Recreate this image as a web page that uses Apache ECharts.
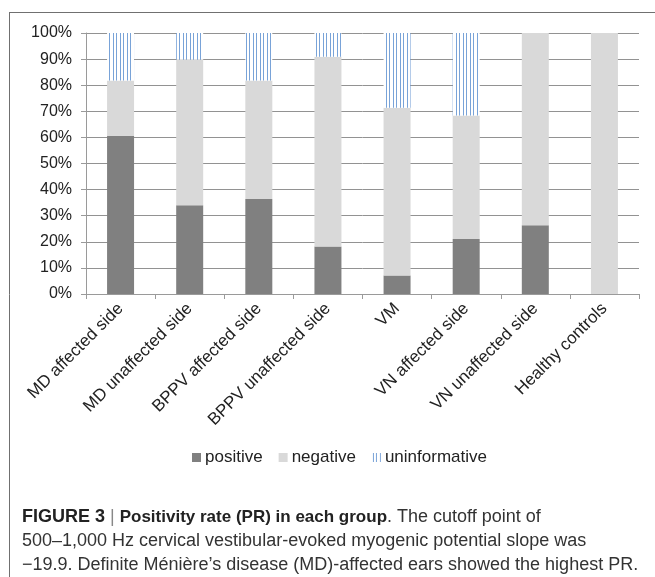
<!DOCTYPE html>
<html>
<head>
<meta charset="utf-8">
<script src="https://cdn.jsdelivr.net/npm/echarts@6/dist/echarts.min.js"></script>
<style>
  html, body { margin: 0; padding: 0; background: #fff; }
  #chart { width: 655px; height: 577px; }
</style>
</head>
<body>
<div id="chart"></div>
<script>
// groups along the x axis
const groups = [
  "MD affected side",
  "MD unaffected side",
  "BPPV affected side",
  "BPPV unaffected side",
  "VM",
  "VN affected side",
  "VN unaffected side",
  "Healthy controls"
];
// share of each group, in percent
const positive = [60.6, 34.0, 36.4, 18.2, 7.1, 21.1, 26.3, 0];
const negative = [21.2, 55.8, 45.4, 72.7, 64.3, 47.3, 73.7, 100];
const uninformative = [18.2, 10.2, 18.2, 9.1, 28.6, 31.6, 0, 0];
const yTicks = [0, 10, 20, 30, 40, 50, 60, 70, 80, 90, 100];

const fontFam = "Liberation Sans, Arial, sans-serif";

// vertical stripes for the "uninformative" part
function stripes() {
  const c = document.createElement("canvas");
  c.width = 7;
  c.height = 4;
  const ctx = c.getContext("2d");
  ctx.fillStyle = "#ffffff";
  ctx.fillRect(0, 0, 7, 4);
  ctx.fillStyle = "#79a3d8";
  ctx.fillRect(1, 0, 1, 4);
  ctx.fillRect(4, 0, 1, 4);
  return c;
}

const myChart = echarts.init(document.getElementById("chart"));

const barStyle = {
  type: "bar",
  stack: "total",
  barWidth: 27,
  animation: false
};

const options = {
  textStyle: { fontFamily: fontFam },
  legend: {
    data: ["positive", "negative", "uninformative"],
    top: 444,
    left: 187,
    icon: "rect",
    itemWidth: 9,
    itemHeight: 9,
    itemGap: 16,
    textStyle: { fontSize: 17, color: "#222", fontFamily: fontFam, padding: [0, 0, 0, -1] }
  },
  grid: {
    left: 86,
    right: 16,
    top: 33,
    bottom: 283
  },
  xAxis: {
    type: "category",
    data: groups,
    axisLine: { lineStyle: { color: "#9a9a9a" } },
    axisTick: { show: true, length: 5, lineStyle: { color: "#9a9a9a" } },
    axisLabel: {
      rotate: 45,
      interval: 0,
      fontSize: 17,
      color: "#222",
      margin: 12
    },
    splitLine: { show: false }
  },
  yAxis: {
    type: "value",
    min: yTicks[0],
    max: yTicks[yTicks.length - 1],
    interval: 10,
    axisLine: { show: true, lineStyle: { color: "#9a9a9a" } },
    axisTick: { show: true, length: 5, lineStyle: { color: "#9a9a9a" } },
    axisLabel: {
      formatter: "{value}%",
      fontSize: 16,
      color: "#222",
      margin: 14
    },
    splitLine: { lineStyle: { color: "#929292", width: 1 } }
  },
  series: [
    Object.assign({ name: "positive", data: positive, itemStyle: { color: "#808080" } }, barStyle),
    Object.assign({ name: "negative", data: negative, itemStyle: { color: "#d9d9d9" } }, barStyle),
    Object.assign({
      name: "uninformative",
      data: uninformative,
      itemStyle: { color: { image: stripes(), repeat: "repeat" } }
    }, barStyle)
  ],
  graphic: [
    // frame: top and left rules
    { type: "line", shape: { x1: 9, y1: 12.5, x2: 655, y2: 12.5 }, style: { stroke: "#707070", lineWidth: 1 } },
    { type: "line", shape: { x1: 9.5, y1: 12, x2: 9.5, y2: 577 }, style: { stroke: "#707070", lineWidth: 1 } },
    {
      type: "text",
      left: 22,
      top: 505,
      style: {
        text: "{b|FIGURE 3} {s||} {n|Positivity rate (PR) in each group}. The cutoff point of\n" +
              "500\u20131,000 Hz cervical vestibular-evoked myogenic potential slope was\n" +
              "\u221219.9. Definite M\u00e9ni\u00e8re\u2019s disease (MD)-affected ears showed the highest PR.",
        fontSize: 18,
        fontFamily: fontFam,
        fill: "#333",
        lineHeight: 24,
        rich: {
          b: { fontWeight: "bold", fontSize: 18, fontFamily: fontFam, fill: "#222", lineHeight: 24 },
          n: { fontWeight: "bold", fontSize: 17, fontFamily: fontFam, fill: "#222", lineHeight: 24 },
          s: { fontSize: 18, fontFamily: fontFam, fill: "#888", lineHeight: 24 }
        }
      }
    }
  ]
};

myChart.setOption(options);
</script>
</body>
</html>
